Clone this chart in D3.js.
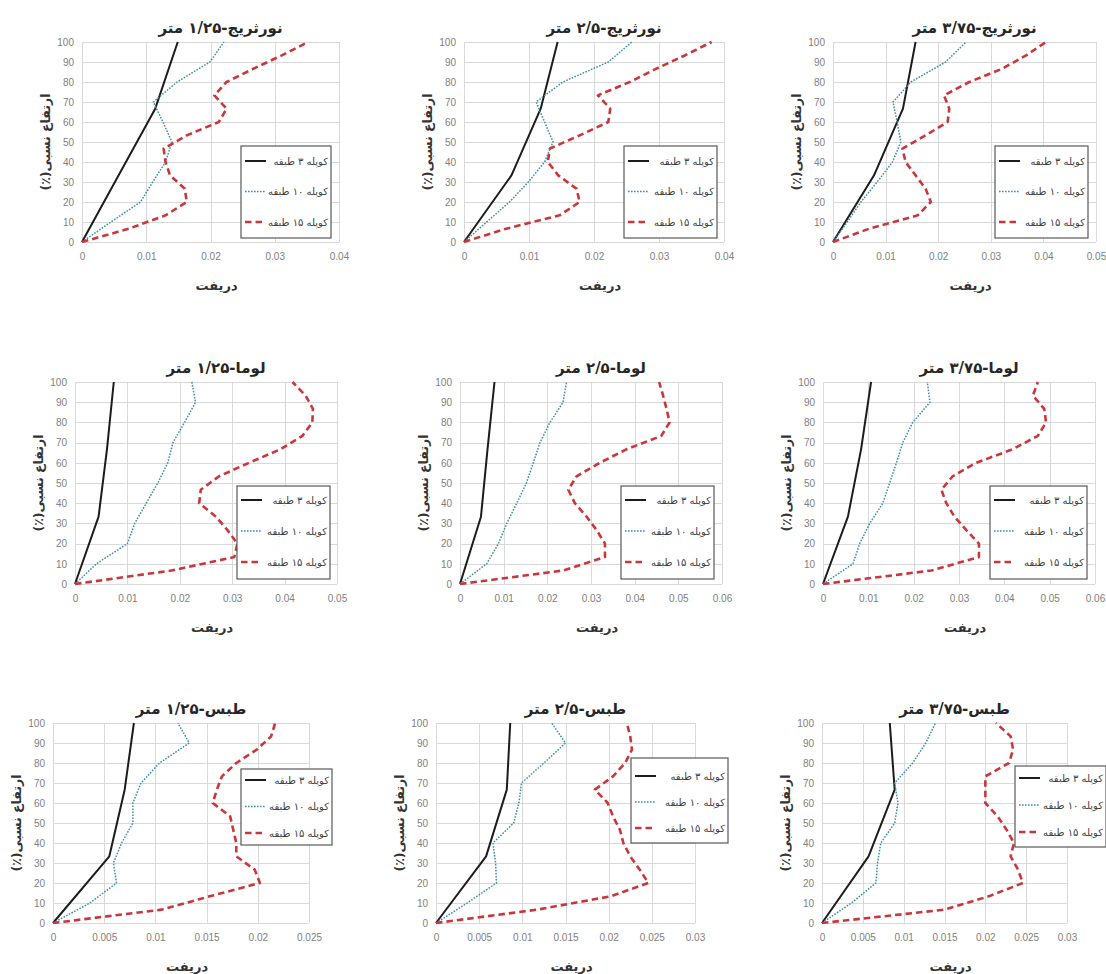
<!DOCTYPE html>
<html>
<head>
<meta charset="utf-8">
<script src="https://cdn.jsdelivr.net/npm/d3@7"></script>
<style>
body { margin: 0; background: #fff; }
.tick text { font-family: "Liberation Sans Narrow", "Liberation Sans", Arial, sans-serif; font-size: 10px; fill: #808080; }
.tick line { stroke: #d9d9d9; stroke-width: 1; shape-rendering: crispEdges; }
.fa { font-family: "DejaVu Sans", "Noto Sans", sans-serif; }
</style>
</head>
<body>
<div id="chart"></div>
<script>
// records (rows) and column spacing (columns)
var records = ["نورثریج", "لوما", "طبس"];
var spacings = ["۱/۲۵", "۲/۵", "۳/۷۵"];
var seriesNames = ["کوپله ۳ طبقه", "کوپله ۱۰ طبقه", "کوپله ۱۵ طبقه"];

// x axis max and step per panel (row-major)
var xMax  = [0.04, 0.04, 0.05,  0.05, 0.06, 0.06,  0.025, 0.03, 0.03];
var xStep = [0.01, 0.01, 0.01,  0.01, 0.01, 0.01,  0.005, 0.005, 0.005];
var yTicks = [0, 10, 20, 30, 40, 50, 60, 70, 80, 90, 100];

// relative heights (%) of the storeys
var height3  = [0, 33.33, 66.67, 100];
var height10 = [0, 10, 20, 30, 40, 50, 60, 70, 80, 90, 100];
var height15 = [0, 6.67, 13.33, 20, 26.67, 33.33, 40, 46.67, 53.33, 60, 66.67, 73.33, 80, 86.67, 93.33, 100];

// drift values, one list per panel
var drift3 = [
  [0, 0.0057, 0.0114, 0.0149],
  [0, 0.0073, 0.0118, 0.0144],
  [0, 0.0078, 0.0133, 0.0157],
  [0, 0.0045, 0.0061, 0.0074],
  [0, 0.0048, 0.0063, 0.0079],
  [0, 0.0055, 0.0084, 0.0106],
  [0, 0.0055, 0.0070, 0.0079],
  [0, 0.0058, 0.0082, 0.0086],
  [0, 0.0057, 0.0089, 0.0083]
];
var drift10 = [
  [0, 0.0045, 0.0091, 0.0110, 0.0130, 0.0140, 0.0126, 0.0111, 0.0148, 0.0199, 0.0221],
  [0, 0.0035, 0.0070, 0.0099, 0.0124, 0.0137, 0.0124, 0.0111, 0.0152, 0.0222, 0.0258],
  [0, 0.0027, 0.0053, 0.0084, 0.0113, 0.0129, 0.0122, 0.0114, 0.0148, 0.0214, 0.0253],
  [0, 0.0041, 0.0100, 0.0114, 0.0136, 0.0158, 0.0177, 0.0187, 0.0209, 0.0230, 0.0223],
  [0, 0.0061, 0.0088, 0.0107, 0.0130, 0.0152, 0.0168, 0.0183, 0.0206, 0.0236, 0.0244],
  [0, 0.0066, 0.0081, 0.0103, 0.0132, 0.0147, 0.0162, 0.0176, 0.0198, 0.0236, 0.0230],
  [0, 0.0036, 0.0062, 0.0059, 0.0067, 0.0078, 0.0078, 0.0086, 0.0104, 0.0133, 0.0122],
  [0, 0.0036, 0.0070, 0.0069, 0.0066, 0.0090, 0.0096, 0.0099, 0.0125, 0.0150, 0.0134],
  [0, 0.0036, 0.0066, 0.0068, 0.0072, 0.0089, 0.0093, 0.0089, 0.0111, 0.0127, 0.0139]
];
var drift15 = [
  [0, 0.0073, 0.0130, 0.0163, 0.0160, 0.0137, 0.0130, 0.0127, 0.0163, 0.0213, 0.0225, 0.0206, 0.0225, 0.0267, 0.0311, 0.0352],
  [0, 0.0065, 0.0147, 0.0178, 0.0173, 0.0145, 0.0129, 0.0132, 0.0178, 0.0222, 0.0225, 0.0206, 0.0255, 0.0296, 0.0340, 0.0381],
  [0, 0.0069, 0.0161, 0.0186, 0.0176, 0.0157, 0.0138, 0.0132, 0.0176, 0.0218, 0.0221, 0.0211, 0.0259, 0.0322, 0.0367, 0.0405],
  [0, 0.0184, 0.0304, 0.0310, 0.0291, 0.0269, 0.0237, 0.0240, 0.0275, 0.0332, 0.0392, 0.0434, 0.0453, 0.0454, 0.0440, 0.0415],
  [0, 0.0236, 0.0332, 0.0332, 0.0313, 0.0290, 0.0263, 0.0248, 0.0267, 0.0320, 0.0381, 0.0461, 0.0480, 0.0473, 0.0465, 0.0456],
  [0, 0.0239, 0.0344, 0.0344, 0.0316, 0.0290, 0.0272, 0.0261, 0.0286, 0.0338, 0.0418, 0.0474, 0.0492, 0.0488, 0.0463, 0.0474],
  [0, 0.0106, 0.0153, 0.0202, 0.0197, 0.0179, 0.0179, 0.0176, 0.0173, 0.0156, 0.0160, 0.0165, 0.0179, 0.0199, 0.0213, 0.0217],
  [0, 0.0117, 0.0202, 0.0246, 0.0236, 0.0225, 0.0217, 0.0213, 0.0205, 0.0199, 0.0184, 0.0205, 0.0219, 0.0227, 0.0225, 0.0221],
  [0, 0.0150, 0.0204, 0.0246, 0.0240, 0.0231, 0.0235, 0.0226, 0.0215, 0.0200, 0.0200, 0.0200, 0.0229, 0.0234, 0.0231, 0.0213]
];

// layout of each plot area and its legend box
var frames = [
  {l: 82,  r: 339,  t: 42,  b: 242},
  {l: 464, r: 724,  t: 42,  b: 242},
  {l: 833, r: 1096, t: 42,  b: 242},
  {l: 75,  r: 337,  t: 382, b: 584},
  {l: 460, r: 722,  t: 382, b: 584},
  {l: 823, r: 1095, t: 382, b: 584},
  {l: 53,  r: 309,  t: 723, b: 923},
  {l: 436, r: 695,  t: 723, b: 923},
  {l: 822, r: 1067, t: 723, b: 923}
];
var legends = [
  {x: 241, y: 146, w: 90, h: 92, top: 15, gap: 30.5},
  {x: 624, y: 146, w: 93, h: 92, top: 15, gap: 30.5},
  {x: 995, y: 146, w: 93, h: 92, top: 15, gap: 30.5},
  {x: 237, y: 486, w: 93, h: 93, top: 14, gap: 31},
  {x: 621, y: 486, w: 93, h: 93, top: 14, gap: 31},
  {x: 990, y: 486, w: 97, h: 93, top: 14, gap: 31},
  {x: 241, y: 769, w: 91, h: 76, top: 11, gap: 26.5},
  {x: 631, y: 758, w: 97, h: 85, top: 18, gap: 26},
  {x: 1015, y: 766, w: 91, h: 81, top: 12, gap: 27}
];
var styles = [
  {color: "#1c1c1c", width: 2,   dash: null},
  {color: "#3d8ea6", width: 1.5, dash: "1.6,1.4"},
  {color: "#c9373c", width: 2.6, dash: "6.5,4"}
];

var svg = d3.select("#chart").append("svg")
  .attr("width", 1106).attr("height", 974)
  .style("display", "block");
svg.append("rect").attr("width", 1106).attr("height", 974).attr("fill", "#fff");

var fmt = d3.format("~g");

frames.forEach(function(f, i) {
  var row = Math.floor(i / 3), col = i % 3;
  var x = d3.scaleLinear().domain([0, xMax[i]]).range([f.l, f.r]);
  var y = d3.scaleLinear().domain([0, 100]).range([f.b, f.t]);
  var xt = d3.range(0, Math.round(xMax[i] / xStep[i]) + 1).map(function(k){ return +(k * xStep[i]).toFixed(4); });

  var g = svg.append("g");

  g.append("g")
    .attr("transform", "translate(0," + f.b + ")")
    .call(d3.axisBottom(x).tickValues(xt).tickFormat(fmt).tickSize(-(f.b - f.t)).tickPadding(11))
    .call(function(a){ a.select(".domain").remove(); });
  g.append("g")
    .attr("transform", "translate(" + f.l + ",0)")
    .call(d3.axisLeft(y).tickValues(yTicks).tickSize(-(f.r - f.l)).tickPadding(8))
    .call(function(a){ a.select(".domain").remove(); });

  // series
  var sets = [
    {h: height3,  d: drift3[i]},
    {h: height10, d: drift10[i]},
    {h: height15, d: drift15[i]}
  ];
  var line = d3.line()
    .x(function(p){ return x(p[0]); })
    .y(function(p){ return y(p[1]); });
  sets.forEach(function(s, k) {
    var pts = s.d.map(function(v, j){ return [v, s.h[j]]; });
    g.append("path")
      .datum(pts)
      .attr("d", line)
      .attr("fill", "none")
      .attr("stroke", styles[k].color)
      .attr("stroke-width", styles[k].width)
      .attr("stroke-dasharray", styles[k].dash)
      .attr("stroke-linejoin", "round");
  });

  // title
  g.append("text").attr("class", "fa")
    .attr("x", (f.l + f.r) / 2 + 10).attr("y", f.t - 9)
    .attr("text-anchor", "middle").attr("direction", "rtl")
    .attr("font-size", 15).attr("font-weight", "bold").attr("fill", "#262626")
    .text(records[row] + "-" + spacings[col] + " متر");

  // axis titles
  g.append("text").attr("class", "fa")
    .attr("x", (f.l + f.r) / 2 + 6).attr("y", f.b + 48)
    .attr("text-anchor", "middle").attr("direction", "rtl")
    .attr("font-size", 13).attr("font-weight", "bold").attr("fill", "#333")
    .text("دریفت");
  g.append("text").attr("class", "fa")
    .attr("transform", "translate(" + (f.l - 32) + "," + ((f.t + f.b) / 2) + ") rotate(-90)")
    .attr("text-anchor", "middle").attr("direction", "rtl")
    .attr("font-size", 12.5).attr("font-weight", "bold").attr("fill", "#333")
    .text("ارتفاع نسبی(٪)");

  // legend
  var L = legends[i];
  var lg = g.append("g");
  lg.append("rect")
    .attr("x", L.x).attr("y", L.y).attr("width", L.w).attr("height", L.h)
    .attr("fill", "#fff").attr("stroke", "#595959").attr("stroke-width", 1.2);
  seriesNames.forEach(function(name, k) {
    var ly = L.y + L.top + k * L.gap;
    lg.append("line")
      .attr("x1", L.x + 4).attr("x2", L.x + 25).attr("y1", ly).attr("y2", ly)
      .attr("stroke", styles[k].color)
      .attr("stroke-width", styles[k].width)
      .attr("stroke-dasharray", styles[k].dash);
    lg.append("text").attr("class", "fa")
      .attr("x", L.x + L.w - 3).attr("y", ly + 3.5)
      .attr("text-anchor", "start").attr("direction", "rtl")
      .attr("font-size", 10).attr("fill", "#404040")
      .text(name);
  });
});
</script>
</body>
</html>
